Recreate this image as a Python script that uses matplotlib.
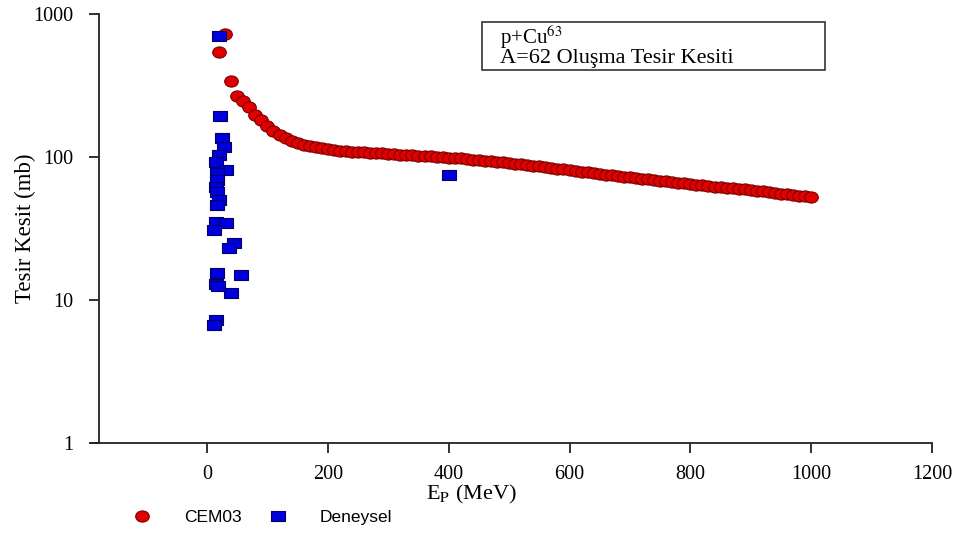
import numpy as np
import matplotlib
matplotlib.use("Agg")
import matplotlib.pyplot as plt
from matplotlib.path import Path
from matplotlib.patches import Rectangle

plt.rcParams['mathtext.fontset'] = 'stix'

# CEM03 calculation (E in MeV, cross section in mb)
cem_E = list(range(20, 1001, 10))
cem_sigma = [542, 720, 340, 265, 245, 222, 198, 180, 165, 152,
             143, 136, 130, 126, 122, 119, 117, 115, 113, 112,
             111, 110, 109, 108, 108, 107, 106, 106, 105, 105,
             104, 104, 103, 102, 102, 101, 100, 100, 99, 98,
             98, 97, 96, 95, 94, 94, 93, 92, 91, 90,
             89, 88, 87, 86, 85, 84, 83, 82, 81, 80,
             79, 78, 77, 76, 75, 74.5, 74, 73, 72, 71,
             70.5, 70, 69, 68, 67.5, 67, 66, 65.5, 65, 64,
             63.5, 63, 62, 61.5, 61, 60.5, 60, 59.5, 59, 58,
             57.5, 57, 56, 55.5, 55, 54, 53.5, 53, 52.5]

# experimental data
exp_E = [20, 22, 24, 28, 20, 15, 32, 17, 17, 15, 17, 20, 17,
         15, 32, 12, 45, 37, 17, 57, 15, 40, 15, 12, 400, 18]
exp_sigma = [702, 193, 136, 117, 103, 92, 81, 77, 69, 62, 57, 50, 46,
             35, 34.5, 31, 25, 23, 15.5, 15, 13, 11.2, 7.2, 6.7, 75, 12.5]

x_ticks = [0, 200, 400, 600, 800, 1000, 1200]
y_ticks = [1, 10, 100, 1000]

# slightly stretched markers like in the original picture
circ = Path.unit_circle()
ellipse = Path(circ.vertices * np.array([1.0, 0.82]), circ.codes)
rect = Path([(-1, -0.72), (1, -0.72), (1, 0.72), (-1, 0.72), (-1, -0.72)],
            [Path.MOVETO, Path.LINETO, Path.LINETO, Path.LINETO, Path.CLOSEPOLY])

fig = plt.figure(figsize=(9.62, 5.34), dpi=100)
W, H = 962, 534
ax = fig.add_axes([91 / W, 1 - 443 / H, (932 - 91) / W, (443 - 14) / H])

ax.plot(cem_E, cem_sigma, linestyle='none', marker=ellipse, markersize=9.8,
        markerfacecolor='#e00000', markeredgecolor='#7a0000', markeredgewidth=0.8,
        label='CEM03')
ax.plot(exp_E, exp_sigma, linestyle='none', marker=rect, markersize=9.4,
        markerfacecolor='#0000dd', markeredgecolor='#000066', markeredgewidth=0.8,
        label='Deneysel')

ax.set_yscale('log')
ax.set_xlim(-192, 1200)
ax.set_ylim(1, 1000)
ax.set_xticks(x_ticks)
ax.set_yticks(y_ticks)
ax.set_yticklabels([str(v) for v in y_ticks])
ax.yaxis.set_minor_locator(matplotlib.ticker.NullLocator())

ax.spines['top'].set_visible(False)
ax.spines['right'].set_visible(False)
ax.spines['left'].set_position(('data', -178))
for s in ('left', 'bottom'):
    ax.spines[s].set_linewidth(1.3)
    ax.spines[s].set_color('#222222')
ax.tick_params(direction='out', length=7, width=1.3, color='#222222',
               labelsize=14.5)
ax.tick_params(axis='y', pad=12)
ax.tick_params(axis='x', pad=9)
for lab in ax.get_xticklabels() + ax.get_yticklabels():
    lab.set_fontfamily('Liberation Serif')

fig.text(25 / W, 1 - 228 / H, 'Tesir Kesit (mb)', rotation=90, ha='center',
         va='center', fontsize=16.5, family='Liberation Serif')
fig.text(471 / W, 1 - 494 / H, r'E$_\mathrm{P}$ (MeV)', ha='center', va='center',
         fontsize=16, family='Liberation Serif')

# info box
fig.patches.append(Rectangle((482 / W, 1 - 70 / H), (825 - 482) / W, 48 / H,
                             transform=fig.transFigure, fill=False,
                             edgecolor='#333333', linewidth=1.2))
fig.text(500 / W, 1 - 37 / H, r'p+Cu$^{63}$', ha='left', va='center',
         fontsize=15, family='Liberation Serif')
fig.text(500 / W, 1 - 58 / H, 'A=62 Oluşma Tesir Kesiti', ha='left', va='center',
         fontsize=16, family='Liberation Serif')

leg = fig.legend(loc='center left', bbox_to_anchor=(132 / W, 1 - 517 / H),
                 ncol=2, frameon=False, prop={'family': 'Liberation Sans', 'size': 12.5},
                 handlelength=1.2, handletextpad=1.8, columnspacing=1.5,
                 borderaxespad=0, borderpad=0)

fig.savefig('out.png', dpi=100)
